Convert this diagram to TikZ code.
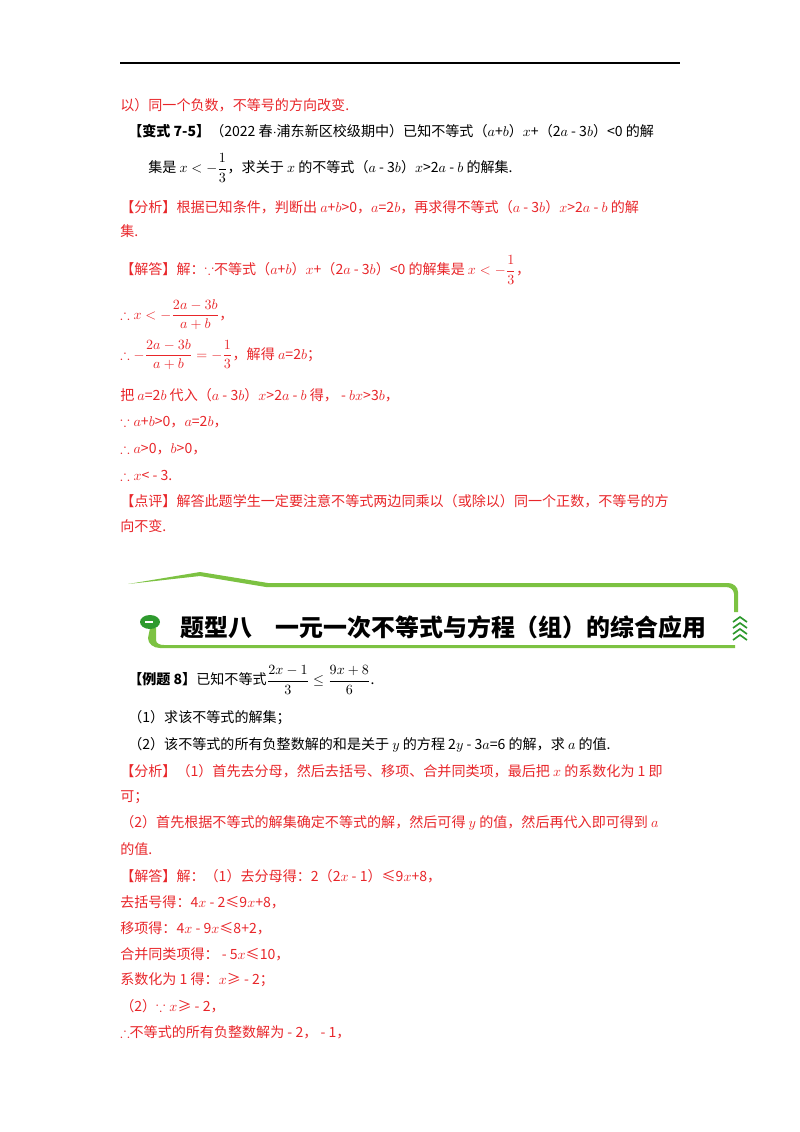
\documentclass[tikz,border=0pt]{standalone}
\usepackage{amsmath,amssymb}
\usepackage{fontspec}
\usepackage{xcolor}
\setmainfont{Noto Sans CJK SC}
\usetikzlibrary{positioning,calc}
\definecolor{ansred}{HTML}{E8262A}
\definecolor{bandgreen}{HTML}{7CC242}
\definecolor{darkgreen}{HTML}{2E9A2E}
\begin{document}
\begin{tikzpicture}[x=0.025cm,y=-0.025cm]
  % Define styles
  \tikzset{
    line/.style={anchor=west, inner sep=0pt, font=\fontsize{10}{12}\selectfont},
    red line/.style={line, text=ansred},
    title/.style={anchor=west, inner sep=0pt, font=\fontsize{17}{20}\selectfont\bfseries}
  }
  \useasboundingbox (0,0) rectangle (800,1132);
  \draw[thick] (120,63) -- (680,63);

  % Previous answer
  \node[red line] (p1) at (120,105) {以）同一个负数，不等号的方向改变.};
  \node[line] (p2) at (128,131) {\textbf{【变式 7-5】}（2022 春$\cdot$浦东新区校级期中）已知不等式（$a$+$b$）$x$+（2$a$ - 3$b$）<0 的解};
  \node[line] (p3) at (148,168) {集是 $x<-\dfrac{1}{3}$，求关于 $x$ 的不等式（$a$ - 3$b$）$x$>2$a$ - $b$ 的解集.};
  \node[red line] (p4) at (120,207) {【分析】根据已知条件，判断出 $a$+$b$>0，$a$=2$b$，再求得不等式（$a$ - 3$b$）$x$>2$a$ - $b$ 的解};
  \node[red line] (p5) at (120,231) {集.};
  \node[red line] (p6) at (120,270) {【解答】解：$\because$不等式（$a$+$b$）$x$+（2$a$ - 3$b$）<0 的解集是 $x<-\dfrac{1}{3}$，};
  \node[red line] (p7) at (120,315) {$\therefore x<-\dfrac{2a-3b}{a+b}$，};
  \node[red line] (p8) at (120,355) {$\therefore -\dfrac{2a-3b}{a+b}=-\dfrac{1}{3}$，解得 $a$=2$b$；};
  \node[red line] (p9) at (120,395) {把 $a$=2$b$ 代入（$a$ - 3$b$）$x$>2$a$ - $b$ 得， - $bx$>3$b$，};
  \node[red line] (p10) at (120,422) {$\because a$+$b$>0，$a$=2$b$，};
  \node[red line] (p11) at (120,449) {$\therefore a$>0，$b$>0，};
  \node[red line] (p12) at (120,475) {$\therefore x$< - 3.};
  \node[red line] (p13) at (120,501) {【点评】解答此题学生一定要注意不等式两边同乘以（或除以）同一个正数，不等号的方};
  \node[red line] (p14) at (120,526) {向不变.};

  % Banner
  \fill[bandgreen] (128,584) -- (200,572) -- (268,583) -- (728,583)
    to[out=0,in=90] (738,592) -- (738,612) -- (734,612) -- (734,594)
    to[out=90,in=0] (726,587) -- (266,587) -- (200,576) -- cycle;
  \fill[bandgreen] (150,628) -- (156,628) -- (156,640) to[out=-90,in=180] (164,645)
    -- (735,645) -- (735,648) -- (160,648) to[out=180,in=-90] (148,638) -- cycle;
  \fill[darkgreen] (150,622) ellipse (10 and 7);
  \draw[white, line width=0.8pt] (145,622) -- (153,622);
  \foreach \k in {0,1,2,3} {
    \draw[darkgreen, line width=1.2pt] (733,{622+6*\k}) -- (740,{617+6*\k}) -- (747,{622+6*\k});
  }
  \node[title] (head) at (180,627) {题型八\quad 一元一次不等式与方程（组）的综合应用};

  % Example 8
  \node[line] (q1) at (128,680) {\textbf{【例题 8】}已知不等式$\dfrac{2x-1}{3}\le\dfrac{9x+8}{6}$.};
  \node[line] (q2) at (128,718) {（1）求该不等式的解集；};
  \node[line] (q3) at (128,745) {（2）该不等式的所有负整数解的和是关于 $y$ 的方程 2$y$ - 3$a$=6 的解，求 $a$ 的值.};
  \node[red line] (q4) at (120,771) {【分析】（1）首先去分母，然后去括号、移项、合并同类项，最后把 $x$ 的系数化为 1 即};
  \node[red line] (q5) at (120,797) {可；};
  \node[red line] (q6) at (120,823) {（2）首先根据不等式的解集确定不等式的解，然后可得 $y$ 的值，然后再代入即可得到 $a$};
  \node[red line] (q7) at (120,849) {的值.};
  \node[red line] (q8) at (120,876) {【解答】解：（1）去分母得：2（2$x$ - 1）≤9$x$+8，};
  \node[red line] (q9) at (120,902) {去括号得：4$x$ - 2≤9$x$+8，};
  \node[red line] (q10) at (120,928) {移项得：4$x$ - 9$x$≤8+2，};
  \node[red line] (q11) at (120,954) {合并同类项得： - 5$x$≤10，};
  \node[red line] (q12) at (120,980) {系数化为 1 得：$x$≥ - 2；};
  \node[red line] (q13) at (120,1006) {（2）$\because x$≥ - 2，};
  \node[red line] (q14) at (120,1032) {$\therefore$不等式的所有负整数解为 - 2， - 1，};
\end{tikzpicture}
\end{document}
